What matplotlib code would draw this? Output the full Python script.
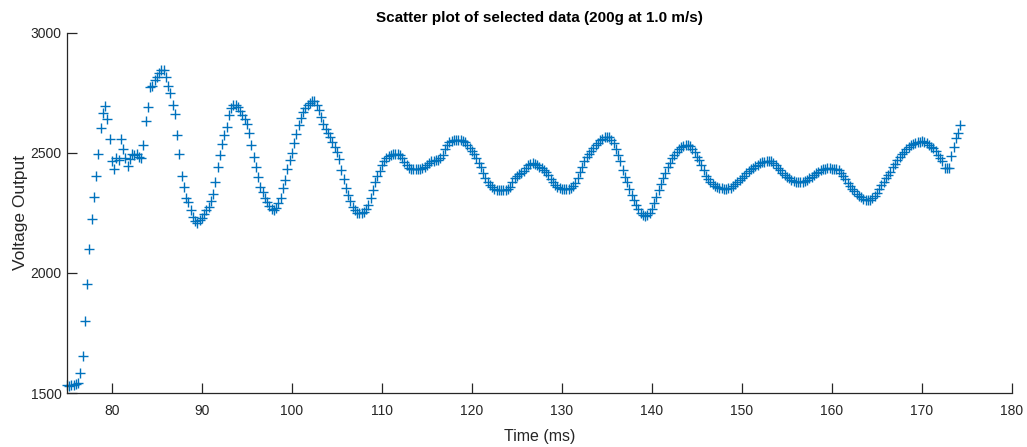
import matplotlib
matplotlib.use("Agg")
import matplotlib.pyplot as plt
import numpy as np

plt.rcParams['font.family'] = ['Liberation Sans', 'DejaVu Sans']

# sampling: first sample time and step (ms)
t_start = 75.0
dt = 0.25

# voltage readings, one row = 2 ms
voltage = [
    1535, 1530, 1535, 1532, 1538, 1540, 1585, 1655,
    1800, 1955, 2100, 2225, 2315, 2405, 2495, 2605,
    2665, 2695, 2640, 2560, 2465, 2435, 2480, 2470,
    2560, 2515, 2480, 2445, 2475, 2495, 2490, 2495,
    2485, 2480, 2535, 2635, 2690, 2775, 2780, 2805,
    2818, 2835, 2846, 2845, 2818, 2780, 2750, 2700,
    2662, 2575, 2497, 2403, 2357, 2311, 2297, 2262,
    2232, 2215, 2210, 2220, 2228, 2245, 2262, 2275,
    2300, 2330, 2380, 2440, 2492, 2538, 2575, 2610,
    2658, 2688, 2702, 2700, 2692, 2675, 2660, 2640,
    2620, 2585, 2533, 2485, 2440, 2401, 2360, 2338,
    2312, 2295, 2278, 2265, 2262, 2272, 2290, 2311,
    2353, 2387, 2432, 2471, 2500, 2540, 2580, 2615,
    2645, 2670, 2688, 2700, 2708, 2718, 2715, 2700,
    2680, 2650, 2620, 2600, 2585, 2565, 2545, 2525,
    2505, 2475, 2430, 2390, 2355, 2325, 2300, 2275,
    2262, 2252, 2250, 2250, 2255, 2265, 2283, 2311,
    2346, 2378, 2405, 2425, 2450, 2468, 2478, 2488,
    2492, 2496, 2497, 2495, 2490, 2478, 2462, 2448,
    2438, 2434, 2432, 2432, 2433, 2434, 2436, 2440,
    2448, 2460, 2466, 2468, 2470, 2472, 2480, 2492,
    2515, 2533, 2545, 2550, 2553, 2555, 2556, 2554,
    2550, 2545, 2535, 2522, 2510, 2495, 2478, 2460,
    2440, 2415, 2395, 2380, 2368, 2358, 2350, 2346,
    2345, 2344, 2344, 2345, 2348, 2358, 2378, 2395,
    2405, 2412, 2418, 2425, 2438, 2448, 2455, 2458,
    2456, 2450, 2443, 2436, 2428, 2420, 2408, 2393,
    2378, 2365, 2358, 2353, 2350, 2348, 2348, 2350,
    2355, 2362, 2375, 2395, 2420, 2443, 2465, 2482,
    2495, 2508, 2520, 2532, 2543, 2553, 2560, 2566,
    2568, 2565, 2556, 2540, 2515, 2490, 2465, 2430,
    2400, 2378, 2350, 2325, 2305, 2285, 2265, 2250,
    2242, 2237, 2240, 2250, 2268, 2290, 2318, 2345,
    2370, 2395, 2415, 2440, 2460, 2478, 2490, 2505,
    2518, 2526, 2531, 2534, 2533, 2528, 2518, 2503,
    2485, 2471, 2450, 2428, 2405, 2390, 2380, 2370,
    2362, 2358, 2355, 2353, 2352, 2352, 2353, 2356,
    2362, 2370, 2378, 2387, 2396, 2405, 2415, 2425,
    2432, 2438, 2445, 2452, 2457, 2461, 2464, 2466,
    2466, 2465, 2460, 2450, 2438, 2428, 2418, 2408,
    2400, 2394, 2388, 2383, 2380, 2379, 2380, 2381,
    2384, 2388, 2394, 2402, 2410, 2416, 2422, 2428,
    2432, 2435, 2436, 2436, 2435, 2434, 2432, 2428,
    2418, 2405, 2390, 2375, 2362, 2350, 2340, 2330,
    2322, 2315, 2310, 2306, 2304, 2306, 2312, 2322,
    2335, 2350, 2365, 2380, 2395, 2408, 2422, 2440,
    2455, 2470, 2482, 2495, 2506, 2515, 2525, 2533,
    2538, 2542, 2545, 2547, 2548, 2547, 2543, 2535,
    2527, 2520, 2508, 2493, 2478, 2465, 2436, 2436,
    2436, 2487, 2526, 2561, 2582, 2617,
]

time = t_start + dt * np.arange(len(voltage))

x_ticks = [80, 90, 100, 110, 120, 130, 140, 150, 160, 170, 180]
y_ticks = [1500, 2000, 2500, 3000]

dark = "#262626"

fig = plt.figure(figsize=(10.27, 4.47), dpi=100)
ax = fig.add_axes([0.0652, 0.1208, 0.9202, 0.8054])

ax.plot(time, voltage, linestyle="none", marker="+", markersize=7,
        markeredgewidth=1.0, color="#0072BD", clip_on=False)

ax.set_xlim(75, 180)
ax.set_ylim(1500, 3000)
ax.set_xticks(x_ticks)
ax.set_yticks(y_ticks)

ax.spines["top"].set_visible(False)
ax.spines["right"].set_visible(False)
for s in ["left", "bottom"]:
    ax.spines[s].set_color(dark)
    ax.spines[s].set_linewidth(0.9)

ax.tick_params(direction="in", length=7, width=0.9, colors=dark,
               labelsize=10)
ax.tick_params(axis="x", pad=8)
ax.tick_params(axis="y", pad=4)

ax.set_title("Scatter plot of selected data (200g at 1.0 m/s)",
             fontsize=11, fontweight="bold", pad=8)
ax.set_xlabel("Time (ms)", fontsize=11.5, color=dark, labelpad=8)
ax.set_ylabel("Voltage Output", fontsize=12.5, color=dark, labelpad=2)

fig.savefig("out.png", dpi=100)
